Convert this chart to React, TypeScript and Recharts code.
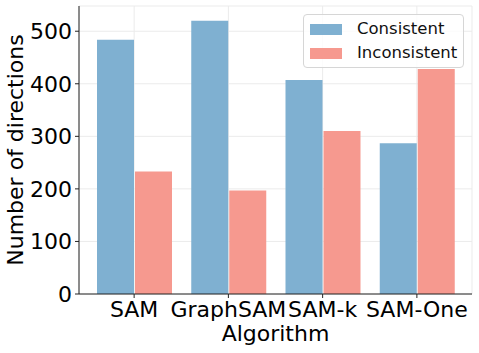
import { BarChart, Bar, XAxis, YAxis, CartesianGrid, Legend } from 'recharts';

const algorithms = ['SAM', 'GraphSAM', 'SAM-k', 'SAM-One'];
const consistent = [484, 520, 407, 287];
const inconsistent = [233, 197, 310, 428];
const yTicks = [0, 100, 200, 300, 400, 500];

const BLUE = '#7fb0d1';
const RED = '#f6998f';
const FONT = '"DejaVu Sans", sans-serif';

const data = algorithms.map((name, i) => ({
  name,
  consistent: consistent[i],
  inconsistent: inconsistent[i],
}));

function LegendBox() {
  const items = [
    { label: 'Consistent', color: BLUE, top: 9 },
    { label: 'Inconsistent', color: RED, top: 33 },
  ];
  return (
    <div
      style={{
        position: 'relative',
        width: 161,
        height: 54,
        boxSizing: 'border-box',
        border: '1px solid #d6d6d6',
        borderRadius: 4,
        background: 'rgba(255,255,255,0.8)',
        fontFamily: FONT,
      }}
    >
      {items.map(it => (
        <div key={it.label}>
          <div
            style={{
              position: 'absolute',
              left: 6,
              top: it.top,
              width: 32,
              height: 11,
              background: it.color,
            }}
          />
          <div
            style={{
              position: 'absolute',
              left: 53,
              top: it.top - 5,
              fontSize: 16.5,
              lineHeight: '20px',
              color: '#111',
              whiteSpace: 'nowrap',
            }}
          >
            {it.label}
          </div>
        </div>
      ))}
    </div>
  );
}

export default function App() {
  return (
    <div style={{ position: 'absolute', left: 0, top: 0, width: 479, height: 353, background: '#fff' }}>
      <BarChart
        width={479}
        height={353}
        data={data}
        margin={{ top: 6, right: 7, left: 0, bottom: 0 }}
        barSize={37}
        barGap={1}
      >
        <CartesianGrid stroke="#ebebeb" strokeWidth={1} />
        <XAxis
          dataKey="name"
          height={59}
          padding={{ left: 8, right: 8 }}
          tick={{ fontSize: 22, fill: '#000', fontFamily: FONT }}
          tickSize={4}
          tickMargin={3}
          axisLine={{ stroke: '#222' }}
          tickLine={{ stroke: '#222' }}
          interval={0}
          label={({ viewBox }: any) => (
            <text
              x={viewBox.x + viewBox.width / 2}
              y={341}
              textAnchor="middle"
              fontSize={22}
              fontFamily={FONT}
              fill="#000"
            >
              Algorithm
            </text>
          )}
        />
        <XAxis
          xAxisId="top"
          dataKey="name"
          orientation="top"
          height={0}
          padding={{ left: 8, right: 8 }}
          tick={false}
          tickLine={false}
          axisLine={{ stroke: '#222' }}
        />
        <YAxis
          width={79}
          domain={[0, 548]}
          ticks={yTicks}
          allowDataOverflow
          tick={{ fontSize: 22, fill: '#000', fontFamily: FONT }}
          tickSize={4}
          tickMargin={3}
          axisLine={{ stroke: '#222' }}
          tickLine={{ stroke: '#222' }}
          label={({ viewBox }: any) => {
            const cy = viewBox.y + viewBox.height / 2;
            return (
              <text
                x={23}
                y={cy}
                transform={`rotate(-90, 23, ${cy})`}
                textAnchor="middle"
                fontSize={22}
                fontFamily={FONT}
                fill="#000"
              >
                Number of directions
              </text>
            );
          }}
        />
        <YAxis
          yAxisId="right"
          orientation="right"
          width={0}
          domain={[0, 548]}
          tick={false}
          tickLine={false}
          axisLine={{ stroke: '#222' }}
        />
        <Legend
          layout="vertical"
          align="center"
          verticalAlign="middle"
          wrapperStyle={{ top: 14, left: 303, width: 161, height: 54 }}
          content={() => <LegendBox />}
        />
        <Bar dataKey="consistent" name="Consistent" fill={BLUE} isAnimationActive={false} />
        <Bar dataKey="inconsistent" name="Inconsistent" fill={RED} isAnimationActive={false} />
      </BarChart>
    </div>
  );
}
